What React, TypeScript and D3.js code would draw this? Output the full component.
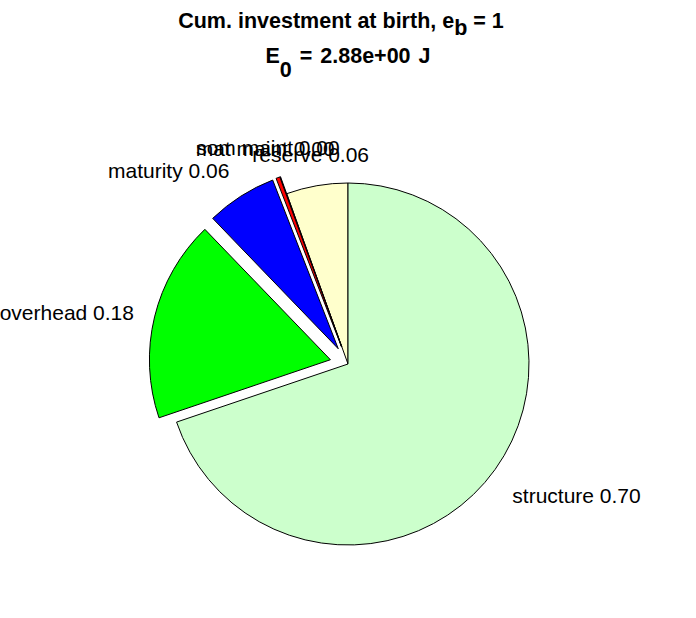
import React from 'react';
import * as d3 from 'd3';

const categories = ['reserve', 'som maint', 'mat maint', 'maturity', 'overhead', 'structure'];
const values = [0.055, 0.0005, 0.0035, 0.063, 0.18, 0.698];
const exploded = [false, true, true, true, true, false];
const colors = ['#FFFFCC', '#FF00FF', '#FF0000', '#0000FF', '#00FF00', '#CCFFCC'];
const titleMain1 = 'Cum. investment at birth, e';
const titleSub1 = 'b';
const titleRest1 = ' = 1';
const titleMain2 = 'E';
const titleSub2 = '0';
const titleRest2 = ' = 2.88e+00 J';

const W = 696;
const H = 618;
const cx = 348;
const cy = 364;
const R = 181;
const FONT = '"Liberation Sans", Arial, Helvetica, sans-serif';

export default function App() {
  const data = categories.map((c, i) => ({ name: c, value: values[i], explode: exploded[i], color: colors[i] }));
  const pie = d3
    .pie<any>()
    .value((d: any) => d.value)
    .sort(null)
    .startAngle(0)
    .endAngle(-2 * Math.PI);
  const arcs = pie(data);
  const arcGen = d3.arc<any>().innerRadius(0).outerRadius(R);
  const fmt = d3.format('.2f');

  return (
    <svg width={W} height={H} style={{ position: 'absolute', left: 0, top: 0, background: '#fff' }} fontFamily={FONT}>
      <rect x={0} y={0} width={W} height={H} fill="#fff" />
      <text x={341} y={28} textAnchor="middle" fontSize={21.5} fontWeight="bold">
        {titleMain1}
        <tspan dy={7}>{titleSub1}</tspan>
        <tspan dy={-7}>{titleRest1}</tspan>
      </text>
      <text x={cx} y={63} textAnchor="middle" fontSize={21.5} fontWeight="bold" wordSpacing={2}>
        {titleMain2}
        <tspan dy={14}>{titleSub2}</tspan>
        <tspan dy={-14}>{titleRest2}</tspan>
      </text>
      {arcs.map((a: any, i: number) => {
        const mid = (a.startAngle + a.endAngle) / 2;
        const dx = Math.sin(mid);
        const dy = -Math.cos(mid);
        const off = a.data.explode ? 0.1 * R : 0;
        return (
          <path
            key={'s' + i}
            d={arcGen(a) as string}
            transform={`translate(${cx + dx * off},${cy + dy * off})`}
            fill={a.data.color}
            stroke="#000"
            strokeWidth={1}
            strokeLinejoin="miter"
          />
        );
      })}
      {arcs.map((a: any, i: number) => {
        const mid = (a.startAngle + a.endAngle) / 2;
        const dx = Math.sin(mid);
        const dy = -Math.cos(mid);
        const dist = R * (1.2 + (a.data.explode ? 0.1 : 0));
        let anchor = 'middle';
        let x = cx + dx * dist;
        if (Math.abs(dx) >= 0.4) {
          anchor = dx > 0 ? 'start' : 'end';
          x = cx + dx * (dist - 15);
        }
        const y = cy + dy * dist + 12;
        return (
          <text key={'l' + i} x={x} y={y} textAnchor={anchor} fontSize={21} fill="#000">
            {`${a.data.name} ${fmt(a.data.value)}`}
          </text>
        );
      })}
    </svg>
  );
}
